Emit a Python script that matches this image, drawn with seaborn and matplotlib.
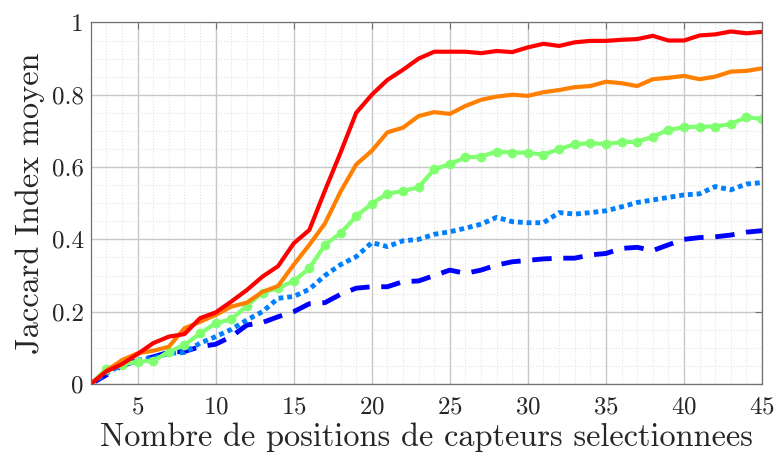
import numpy as np
import pandas as pd
import matplotlib
matplotlib.use('Agg')
import matplotlib.pyplot as plt
from matplotlib.ticker import MultipleLocator
import seaborn as sns

x = list(range(2, 46))

red = [0.0, 0.035, 0.055, 0.083, 0.113, 0.131, 0.138, 0.182, 0.198, 0.228,
       0.26, 0.297, 0.326, 0.389, 0.426, 0.535, 0.64, 0.75, 0.80, 0.841,
       0.869, 0.90, 0.919, 0.919, 0.919, 0.915, 0.921, 0.918, 0.931, 0.941,
       0.935, 0.945, 0.949, 0.949, 0.952, 0.954, 0.963, 0.95, 0.95, 0.964,
       0.967, 0.975, 0.970, 0.974]
orange = [0.0, 0.037, 0.066, 0.085, 0.092, 0.103, 0.154, 0.172, 0.191, 0.214,
          0.225, 0.255, 0.271, 0.33, 0.385, 0.444, 0.532, 0.607, 0.645, 0.696,
          0.709, 0.741, 0.752, 0.747, 0.769, 0.786, 0.795, 0.80, 0.797, 0.807,
          0.813, 0.821, 0.824, 0.836, 0.832, 0.824, 0.843, 0.847, 0.852, 0.843,
          0.85, 0.864, 0.866, 0.873]
green = [0.0, 0.041, 0.053, 0.062, 0.064, 0.089, 0.108, 0.14, 0.168, 0.179,
         0.216, 0.253, 0.265, 0.285, 0.32, 0.385, 0.417, 0.464, 0.499, 0.526,
         0.534, 0.544, 0.594, 0.608, 0.627, 0.629, 0.643, 0.64, 0.64, 0.634,
         0.65, 0.663, 0.666, 0.664, 0.669, 0.67, 0.684, 0.703, 0.71, 0.712,
         0.712, 0.719, 0.738, 0.733]
lightblue = [0.0, 0.03, 0.053, 0.066, 0.071, 0.085, 0.087, 0.113, 0.131, 0.151,
             0.177, 0.20, 0.237, 0.242, 0.262, 0.30, 0.33, 0.352, 0.391, 0.38,
             0.396, 0.40, 0.414, 0.421, 0.431, 0.442, 0.461, 0.449, 0.446, 0.446,
             0.474, 0.47, 0.474, 0.479, 0.49, 0.502, 0.509, 0.516, 0.523, 0.526,
             0.546, 0.537, 0.553, 0.557]
darkblue = [0.0, 0.025, 0.05, 0.065, 0.075, 0.088, 0.09, 0.103, 0.11, 0.131,
            0.163, 0.17, 0.186, 0.20, 0.222, 0.225, 0.248, 0.265, 0.269, 0.269,
            0.283, 0.285, 0.30, 0.315, 0.306, 0.315, 0.329, 0.338, 0.342, 0.346,
            0.348, 0.348, 0.357, 0.361, 0.375, 0.378, 0.369, 0.385, 0.40, 0.405,
            0.407, 0.412, 0.42, 0.424]

sns.set_style("white")
plt.rcParams['font.family'] = ['cmr10', 'DejaVu Serif']
plt.rcParams['axes.formatter.use_mathtext'] = True

fig = plt.figure(figsize=(7.76, 4.58), dpi=100)
ax = fig.add_axes([0.117, 0.1616, 0.865, 0.7894])

sns.lineplot(x=x, y=darkblue, ax=ax, color='#0000ff', lw=3.5,
             linestyle=(0, (4, 2.4)))
sns.lineplot(x=x, y=lightblue, ax=ax, color='#0080ff', lw=3.5,
             linestyle=(0, (1, 0.8)))
sns.lineplot(x=x, y=green, ax=ax, color='#80ff70', lw=3, marker='o',
             markersize=7, markeredgewidth=0)
sns.lineplot(x=x, y=orange, ax=ax, color='#ff8000', lw=3)
sns.lineplot(x=x, y=red, ax=ax, color='#ff0000', lw=3)

ax.set_xlim(2, 45)
ax.set_ylim(0, 1)
ax.xaxis.set_major_locator(MultipleLocator(5))
ax.xaxis.set_minor_locator(MultipleLocator(1))
ax.yaxis.set_minor_locator(MultipleLocator(0.05))
ax.set_yticks([0, 0.2, 0.4, 0.6, 0.8, 1.0])
ax.set_yticklabels(['0', '0.2', '0.4', '0.6', '0.8', '1'])

ax.grid(which='major', color='#c8c8c8', lw=1.0)
ax.grid(which='minor', color='#e4e4e4', lw=0.8, linestyle=':')
ax.set_axisbelow(True)
for s in ax.spines.values():
    s.set_color('#707070')
    s.set_linewidth(0.9)
ax.tick_params(which='major', direction='in', length=5, color='#707070',
               top=True, right=True, labelsize=18)
ax.tick_params(axis='x', pad=9)
ax.tick_params(axis='y', pad=5)
ax.tick_params(which='minor', length=0)

ax.set_xlabel('Nombre de positions de capteurs selectionnees', fontsize=23.3,
              labelpad=3)
ax.set_ylabel('Jaccard Index moyen', fontsize=23.3, labelpad=5)

plt.savefig('out.png', dpi=100)
